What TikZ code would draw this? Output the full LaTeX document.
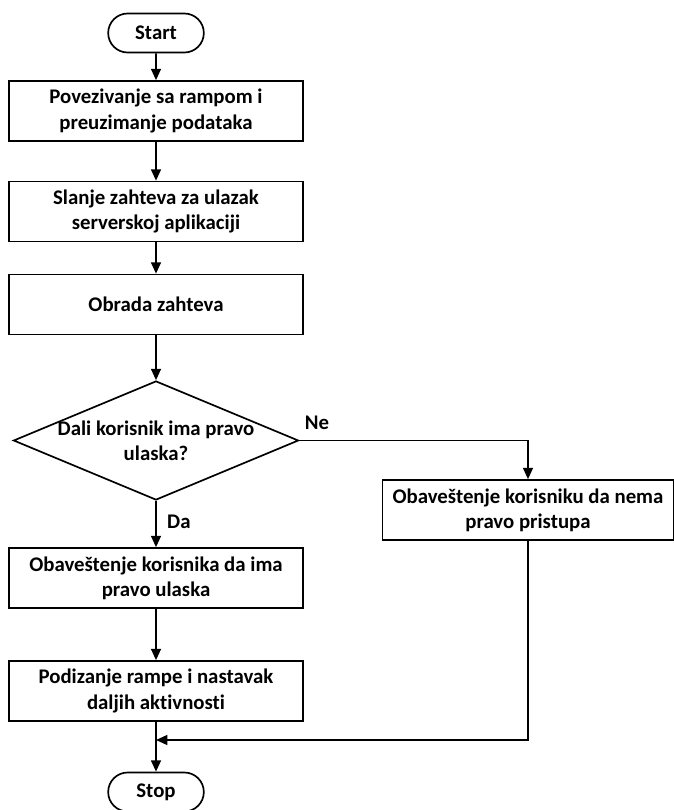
\documentclass[tikz,border=0pt]{standalone}
\usepackage{fontspec}
\setmainfont{Carlito}[Ligatures=NoCommon]
\usetikzlibrary{arrows.meta,shapes.geometric,shapes.misc}
\tikzset{
    every node/.style={
        font=\fontsize{14.8pt}{18pt}\selectfont\bfseries
    },
    process/.style={
        draw, rectangle, line width=1.2pt, align=center,
        minimum width=7.35cm, minimum height=1.5cm, inner sep=2pt
    },
    terminal/.style={
        draw, rounded rectangle, line width=1.2pt,
        minimum width=2.625cm, minimum height=0.975cm
    },
    decision/.style={
        draw, diamond, line width=1.2pt, inner sep=0pt,
        minimum width=7.125cm, minimum height=2.975cm
    },
    flow/.style={
        line width=1.2pt, -{Triangle[length=8pt,width=7pt]}
    }
}
\begin{document}
\begin{tikzpicture}[x=0.025cm,y=-0.025cm]
                \useasboundingbox (0,0) rectangle (674,810);
                \node[terminal] (start) at (156,33) {Start};
                \node[process] (connect) at (156,111) {Povezivanje sa rampom i\\preuzimanje podataka};
                \node[process] (request) at (156,211.5) {Slanje zahteva za ulazak\\serverskoj aplikaciji};
                \node[process] (handle) at (156,304.5) {Obrada zahteva};
                \node[decision] (check) at (156,440.5) {};
                \node[align=center] (checktext) at (check.center) {Dali korisnik ima pravo\\ulaska?};
                \node[process,minimum width=7.275cm] (deny) at (528,510) {Obaveštenje korisniku da nema\\pravo pristupa};
                \node[process] (allow) at (156,578) {Obaveštenje korisnika da ima\\pravo ulaska};
                \node[process] (raise) at (156,691) {Podizanje rampe i nastavak\\daljih aktivnosti};
                \node[terminal] (stop) at (156,792) {Stop};
                \coordinate (join) at (156,740);
                \draw[flow] (start) -- (connect);
                \draw[flow] (connect) -- (request);
                \draw[flow] (request) -- (handle);
                \draw[flow] (handle) -- (check);
                \draw[flow] (check.east) -| (deny.north)
                    node[pos=0, anchor=south west, yshift=3.5pt] (no) {Ne};
                \draw[flow] (check.south) -- (allow.north)
                    node[pos=0.45, right=4pt] (yes) {Da};
                \draw[flow] (allow) -- (raise);
                \draw[flow] (raise) -- (stop);
                \draw[flow] (deny.south) |- (join);
            \end{tikzpicture}
\end{document}
